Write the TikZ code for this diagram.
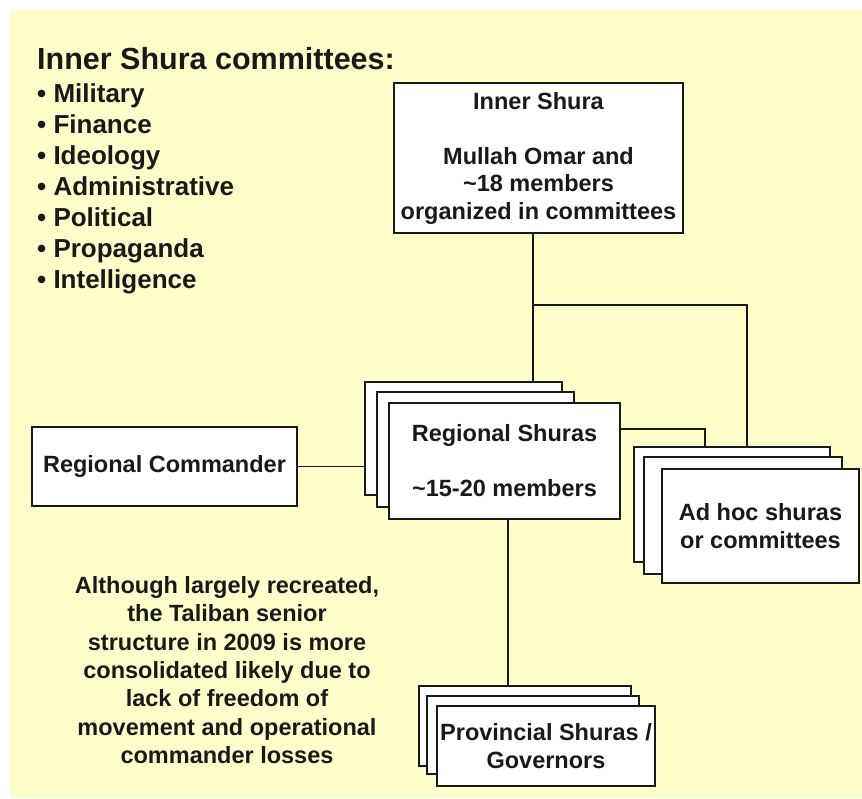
\documentclass[tikz,border=0pt]{standalone}
\usepackage{fontspec}
\setmainfont{Liberation Sans}
\usetikzlibrary{calc}
\definecolor{bgyellow}{RGB}{255,255,204}
\definecolor{ink}{RGB}{25,25,25}
\tikzset{
  card/.style={draw=ink, line width=1.6pt, fill=white, inner sep=0pt, align=center, text=ink,
    font=\bfseries\fontsize{23.5}{27.5}\selectfont},
  link/.style={draw=ink, line width=1.6pt},
  plain/.style={inner sep=0pt, text=ink},
}
\newcommand{\cardat}[6]{% name, x1, y1, x2, y2, text
  \node[card, minimum width={#4-#2}, minimum height={#5-#3}] (#1) at ({(#2+#4)/2},{(#3+#5)/2}) {#6};}
\begin{document}
\begin{tikzpicture}[x=1pt,y=-1pt]
\useasboundingbox (0,0) rectangle (862,798);
\fill[bgyellow] (10,10) rectangle (862,798);

% left list
\node[plain, anchor=base west, font=\bfseries\fontsize{30.5}{31}\selectfont] (hdr) at (37,69) {Inner Shura committees:};
\foreach \t [count=\i] in {Military,Finance,Ideology,Administrative,Political,Propaganda,Intelligence}{
  \node[plain, anchor=base west, font=\bfseries\fontsize{26}{31}\selectfont] (l\i) at (37,{102+31*(\i-1)}) {• \t};
}

% Inner Shura
\cardat{inner}{394}{83}{683}{233}{Inner Shura\\[27.5pt]Mullah Omar and\\\textasciitilde18 members\\organized in committees}

% Regional shuras stack
\cardat{rsb}{365}{382}{562}{495}{}
\cardat{rsm}{377}{392}{574}{507}{}
\cardat{rsf}{389}{403}{620}{519}{Regional Shuras\\[27.5pt]\textasciitilde15-20 members}

% Regional commander
\cardat{rc}{32}{427}{297}{506}{Regional Commander}

% Ad hoc stack
\cardat{ahb}{634}{447}{830}{562}{}
\cardat{ahm}{644}{457}{842}{574}{}
\cardat{ahf}{662}{469}{859}{583}{Ad hoc shuras\\or committees}

% Provincial stack
\cardat{pvb}{419}{686}{631}{766}{}
\cardat{pvm}{427}{696}{639}{774}{}
\cardat{pvf}{437}{706}{655}{786}{Provincial Shuras /\\Governors}

% note
\node[plain, align=center, font=\bfseries\fontsize{23.5}{28.3}\selectfont] (note) at (227,670)
  {Although largely recreated,\\the Taliban senior\\structure in 2009 is more\\consolidated likely due to\\lack of freedom of\\movement and operational\\commander losses};

% connectors
\coordinate (j1) at (533,305);
\coordinate (j2) at (747,305);
\coordinate (j3) at (705,429);
\coordinate (j4) at (508,600);
\draw[link] (j1 |- inner.south) -- (j1 |- rsb.north);
\draw[link] (j1) -- (j2) -- (j2 |- ahb.north);
\draw[link] (j3 -| rsf.east) -- (j3) -- (j3 |- ahb.north);
\draw[link] (rc.east) -- (rc.east -| rsb.west);
\draw[link] (j4 |- rsf.south) -- (j4 |- pvb.north);
\end{tikzpicture}
\end{document}
